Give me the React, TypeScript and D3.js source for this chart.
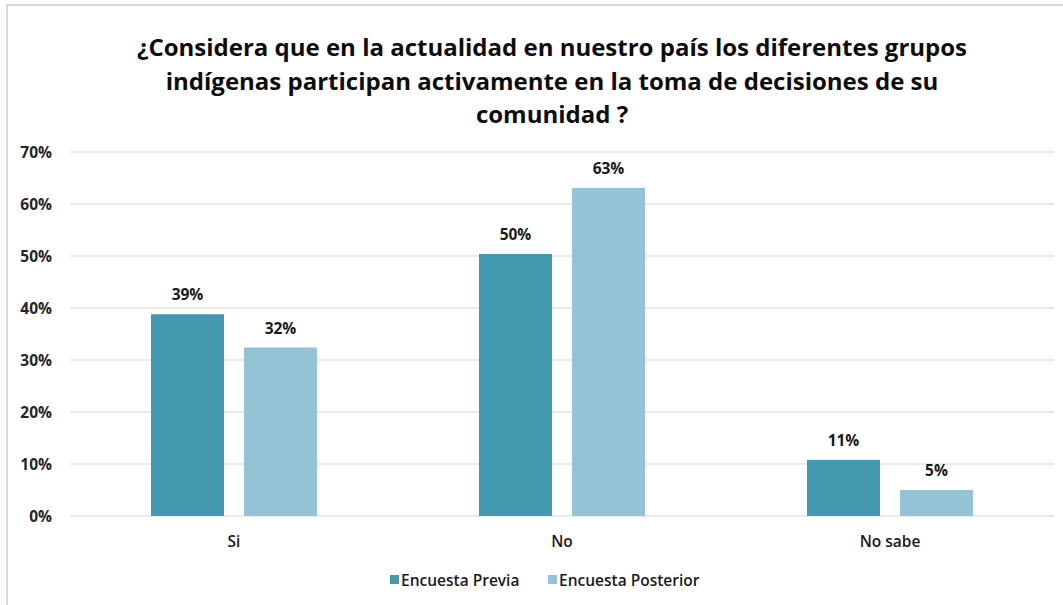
import { useEffect, useRef } from "react";
import * as d3 from "d3";

const categories = ["Si", "No", "No sabe"];
const seriesNames = ["Encuesta Previa", "Encuesta Posterior"];
const previa = [38.8, 50.4, 10.8];
const posterior = [32.4, 63.1, 5.0];
const yTicks = [0, 10, 20, 30, 40, 50, 60, 70];
const titleLines = [
    "¿Considera que en la actualidad en nuestro país los diferentes grupos",
    "indígenas participan activamente en la toma de decisiones de su",
    "comunidad ?",
];

const colors = ["#4399b0", "#93c3d5"];
const font = "'Open Sans', Lato, sans-serif";

export default function App() {
    const svgRef = useRef<SVGSVGElement>(null);

    useEffect(() => {
        if (!svgRef.current) return;
        const svg = d3.select(svgRef.current);
        svg.selectAll("*").remove();

        const left = 70;
        const right = 1054;
        const top = 152;
        const bottom = 516;

        // chart frame
        svg.append("rect")
            .attr("x", 7).attr("y", 5)
            .attr("width", 1070).attr("height", 620)
            .attr("fill", "#fff")
            .attr("stroke", "#d9d9d9")
            .attr("stroke-width", 2);

        // title
        svg.append("g")
            .selectAll("text")
            .data(titleLines)
            .enter()
            .append("text")
            .attr("x", 552)
            .attr("y", (_, i) => 56 + i * 33.5)
            .attr("text-anchor", "middle")
            .attr("font-family", font)
            .attr("font-weight", "bold")
            .attr("font-size", 24)
            .attr("fill", "#0d0d0d")
            .text((d) => d);

        const x0 = d3.scaleBand().domain(categories).range([left, right]);
        const y = d3.scaleLinear().domain([0, 70]).range([bottom, top]);

        const barW = 73;
        const gap = 20;

        // grid
        svg.append("g")
            .selectAll("line")
            .data(yTicks)
            .enter()
            .append("line")
            .attr("x1", left).attr("x2", right)
            .attr("y1", (d) => y(d)).attr("y2", (d) => y(d))
            .attr("stroke", "#e3e3e3")
            .attr("stroke-width", 1.5);

        // y labels
        svg.append("g")
            .selectAll("text")
            .data(yTicks)
            .enter()
            .append("text")
            .attr("x", 52)
            .attr("y", (d) => y(d) + 5.5)
            .attr("text-anchor", "end")
            .attr("font-family", font)
            .attr("font-weight", "bold")
            .attr("font-size", 15.5)
            .attr("fill", "#262626")
            .text((d) => `${d}%`);

        const series = [previa, posterior];
        series.forEach((vals, s) => {
            const g = svg.append("g");
            const bx = (i: number) => {
                const c = (x0(categories[i]) ?? 0) + x0.bandwidth() / 2;
                return s === 0 ? c - gap / 2 - barW : c + gap / 2;
            };
            g.selectAll("rect")
                .data(vals)
                .enter()
                .append("rect")
                .attr("x", (_, i) => bx(i))
                .attr("y", (d) => y(d))
                .attr("width", barW)
                .attr("height", (d) => bottom - y(d))
                .attr("fill", colors[s]);
            g.selectAll("text")
                .data(vals)
                .enter()
                .append("text")
                .attr("x", (_, i) => bx(i) + barW / 2)
                .attr("y", (d) => y(d) - 14)
                .attr("text-anchor", "middle")
                .attr("font-family", font)
                .attr("font-weight", "bold")
                .attr("font-size", 15.5)
                .attr("fill", "#1a1a1a")
                .text((d) => `${Math.round(d)}%`);
        });

        // category labels
        svg.append("g")
            .selectAll("text")
            .data(categories)
            .enter()
            .append("text")
            .attr("x", (d) => (x0(d) ?? 0) + x0.bandwidth() / 2)
            .attr("y", 547)
            .attr("text-anchor", "middle")
            .attr("font-family", font)
            .attr("font-weight", 600)
            .attr("font-size", 15.5)
            .attr("fill", "#1a1a1a")
            .text((d) => d);

        // legend
        const legendX = [390, 548];
        const lg = svg.append("g");
        seriesNames.forEach((name, i) => {
            lg.append("rect")
                .attr("x", legendX[i]).attr("y", 575)
                .attr("width", 9).attr("height", 9)
                .attr("fill", colors[i]);
            lg.append("text")
                .attr("x", legendX[i] + 11)
                .attr("y", 585.5)
                .attr("font-family", font)
                .attr("font-weight", 600)
                .attr("font-size", 15.5)
                .attr("fill", "#1a1a1a")
                .text(name);
        });
    }, []);

    return (
        <svg
            ref={svgRef}
            width={1063}
            height={605}
            style={{ position: "absolute", left: 0, top: 0, background: "#fff" }}
        />
    );
}
